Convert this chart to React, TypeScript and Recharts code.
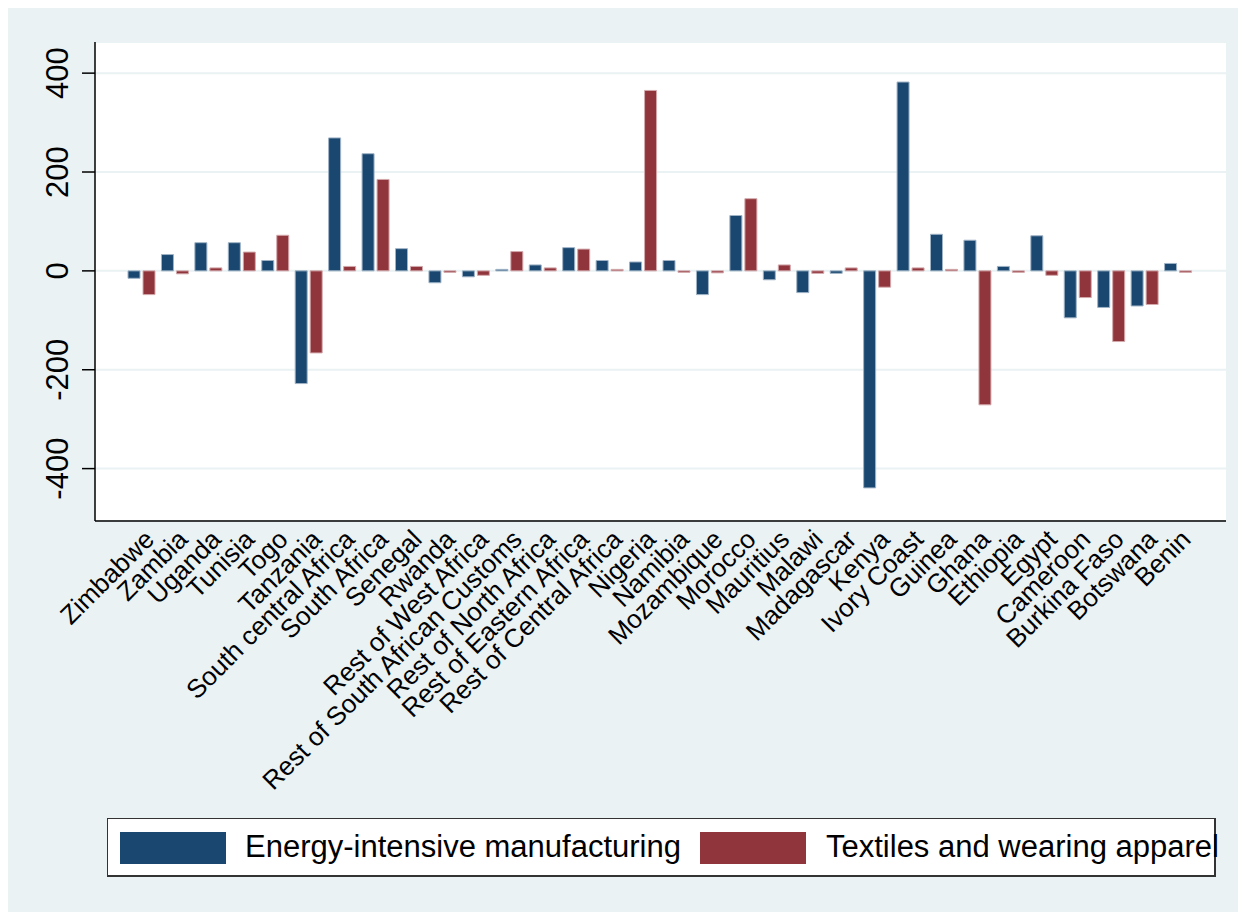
import { BarChart, Bar, XAxis, YAxis, CartesianGrid, Legend } from "recharts";

const REGIONS = [
  "Zimbabwe", "Zambia", "Uganda", "Tunisia", "Togo", "Tanzania",
  "South central Africa", "South Africa", "Senegal", "Rwanda",
  "Rest of West Africa", "Rest of South African Customs", "Rest of North Africa",
  "Rest of Eastern Africa", "Rest of Central Africa", "Nigeria", "Namibia",
  "Mozambique", "Morocco", "Mauritius", "Malawi", "Madagascar", "Kenya",
  "Ivory Coast", "Guinea", "Ghana", "Ethiopia", "Egypt", "Cameroon",
  "Burkina Faso", "Botswana", "Benin",
];

const ENERGY = [
  -15, 33, 57, 57, 21, -228, 269, 237, 45, -24, -12, 3, 12, 47, 21, 18, 21,
  -48, 112, -18, -44, -5, -439, 382, 74, 62, 9, 71, -95, -74, -71, 15,
];

const TEXTILES = [
  -48, -6, 6, 38, 72, -166, 9, 185, 9, -3, -9, 39, 6, 44, 3, 365, -3,
  -4, 146, 12, -5, 6, -33, 6, 3, -271, -3, -9, -54, -143, -68, -3,
];

const Y_TICKS = [-400, -200, 0, 200, 400];

const SERIES = [
  { key: "energy", name: "Energy-intensive manufacturing", color: "#1A476F", edge: "#9FB3C6" },
  { key: "textiles", name: "Textiles and wearing apparel", color: "#90353B", edge: "#D3A9AC" },
];

const data = REGIONS.map((region, i) => ({
  region,
  energy: ENERGY[i],
  textiles: TEXTILES[i],
}));

const FONT = "'Liberation Sans', Arial, sans-serif";

function XTick(props: any) {
  const { x, y, payload } = props;
  const ax = x + 14;
  const ay = y + 20;
  return (
    <text
      x={ax}
      y={ay}
      transform={`rotate(-45, ${ax}, ${ay})`}
      textAnchor="end"
      fontSize={26}
      fontFamily={FONT}
      fill="#000"
    >
      {payload.value}
    </text>
  );
}

function YTick(props: any) {
  const { x, y, payload } = props;
  return (
    <text
      x={x}
      y={y}
      transform={`rotate(-90, ${x}, ${y})`}
      textAnchor="middle"
      fontSize={31}
      fontFamily={FONT}
      fill="#000"
    >
      {payload.value}
    </text>
  );
}

function LegendBox() {
  return (
    <div style={{ position: "relative", width: 1238, height: 94 }}>
      <div
        style={{
          position: "absolute",
          left: 99,
          top: 0,
          width: 1106,
          height: 56,
          background: "#fff",
          border: "1px solid #333",
          borderBottomWidth: 2,
          borderRightWidth: 2,
          fontFamily: FONT,
          fontSize: 31,
          color: "#000",
        }}
      >
        {SERIES.map((s, i) => (
          <div key={s.key}>
            <div
              style={{
                position: "absolute",
                left: i === 0 ? 12 : 592,
                top: 13,
                width: 106,
                height: 32,
                background: s.color,
              }}
            />
            <div
              style={{
                position: "absolute",
                left: i === 0 ? 137 : 718,
                top: 11,
                whiteSpace: "nowrap",
                lineHeight: "34px",
              }}
            >
              {s.name}
            </div>
          </div>
        ))}
      </div>
    </div>
  );
}

export default function App() {
  return (
    <div style={{ width: 1238, height: 904, background: "#EAF2F3" }}>
      <BarChart
        width={1238}
        height={904}
        data={data}
        margin={{ top: 34, right: 20, left: 0, bottom: 0 }}
        barSize={12}
        barGap={3}
      >
        <CartesianGrid vertical={false} stroke="#EAF2F3" strokeWidth={2} fill="#fff" />
        <XAxis
          dataKey="region"
          interval={0}
          padding={{ left: 30, right: 31 }}
          height={297}
          tickLine={false}
          tickSize={0}
          tickMargin={0}
          tick={<XTick />}
          axisLine={{ stroke: "#000", strokeWidth: 1.5 }}
        />
        <YAxis
          domain={[-506, 463]}
          ticks={Y_TICKS}
          width={87}
          tickSize={13}
          tickMargin={14}
          tick={<YTick />}
          tickLine={{ stroke: "#000", strokeWidth: 1.5 }}
          axisLine={{ stroke: "#000", strokeWidth: 1.5 }}
          allowDataOverflow
        />
        <Legend verticalAlign="bottom" content={<LegendBox />} />
        {SERIES.map((s) => (
          <Bar
            key={s.key}
            dataKey={s.key}
            name={s.name}
            fill={s.color}
            stroke={s.edge}
            strokeWidth={1}
            isAnimationActive={false}
          />
        ))}
      </BarChart>
    </div>
  );
}
